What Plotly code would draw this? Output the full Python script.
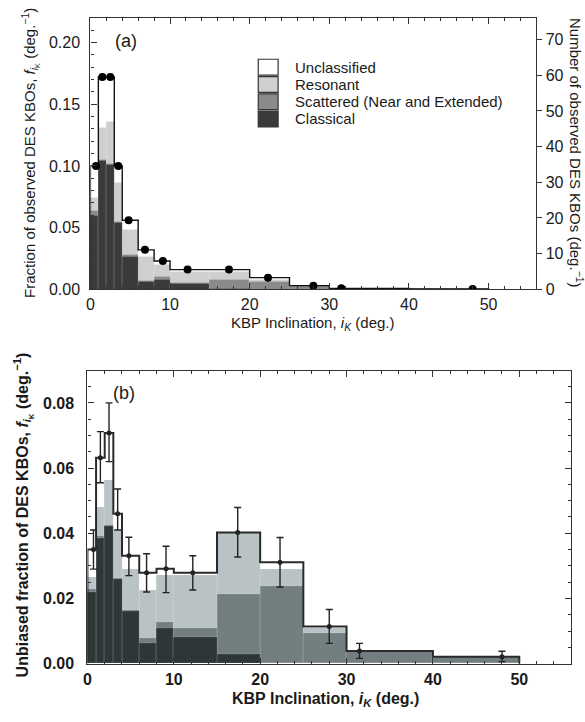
import numpy as np
import plotly.graph_objects as go

W, H = 585, 722

# Inclination bin edges (deg.) shared by both panels
bin_edges = [0, 1, 2, 3, 4, 6, 8, 10, 15, 20, 25, 30, 40, 50]
# Mean inclination of the objects in each bin (marker positions)
bin_mean_incl = [0.7, 1.5, 2.5, 3.5, 4.8, 6.85, 9.1, 12.2, 17.4, 22.3, 28.0, 31.5, 48.0]

# Panel (a): observed fraction per degree, cumulative stack heights
obs_total = [0.100, 0.172, 0.172, 0.100, 0.056, 0.032, 0.023, 0.016, 0.016, 0.0095, 0.003, 0.0008, 0.0003]
obs_resonant_top = [0.074, 0.131, 0.136, 0.086, 0.048, 0.026, 0.020, 0.0145, 0.0145, 0.0075, 0.0025, 0.0008, 0.0003]
obs_scattered_top = [0.064, 0.105, 0.102, 0.055, 0.028, 0.007, 0.010, 0.005, 0.0077, 0.0065, 0.0025, 0.0008, 0.0003]
obs_classical_top = [0.060, 0.104, 0.101, 0.054, 0.026, 0.0065, 0.008, 0.0045, 0.0005, 0.0, 0.0, 0.0, 0.0]
n_observed = 346  # scale for right-hand count axis

# Panel (b): debiased fraction per degree, cumulative stack heights
unb_total = [0.035, 0.0632, 0.0708, 0.046, 0.0331, 0.0279, 0.0291, 0.0279, 0.0402, 0.0311, 0.0114, 0.0039, 0.0021]
unb_resonant_top = [0.0264, 0.048, 0.0564, 0.0409, 0.0289, 0.0226, 0.027, 0.027, 0.0402, 0.029, 0.0107, 0.0039, 0.0021]
unb_scattered_top = [0.0228, 0.0390, 0.0425, 0.0262, 0.0163, 0.0077, 0.0127, 0.0109, 0.0213, 0.0238, 0.0092, 0.0039, 0.0021]
unb_classical_top = [0.0218, 0.0385, 0.0420, 0.0258, 0.0160, 0.0062, 0.0109, 0.0080, 0.0029, 0.0, 0.0, 0.0, 0.0]
unb_upper = [0.041, 0.0712, 0.080, 0.0536, 0.0388, 0.0337, 0.036, 0.0331, 0.0479, 0.0387, 0.0166, 0.0062, 0.0038]
unb_lower = [0.029, 0.0555, 0.062, 0.041, 0.027, 0.022, 0.0218, 0.0226, 0.0327, 0.0235, 0.0062, 0.0016, 0.0006]

x_ticks = [0, 10, 20, 30, 40, 50]
legend_labels = ["Unclassified", "Resonant", "Scattered (Near and Extended)", "Classical"]

colors_a = {"unc": "#ffffff", "res": "#cfcfcf", "sca": "#8a8a8a", "cla": "#3a3a3a"}
colors_b = {"res": "#b9c2c4", "sca": "#737e80", "cla": "#2e3637"}

FONT = "Liberation Sans, Arial, Helvetica, sans-serif"

edges = np.array(bin_edges, dtype=float)
centers = (edges[:-1] + edges[1:]) / 2
widths = np.diff(edges)


def px_x(p):
    return p / W


def px_y(p):
    return 1 - p / H


fig = go.Figure()


def add_stack(tops_and_colors, xa, ya):
    for tops, col in tops_and_colors:
        fig.add_trace(go.Bar(
            x=centers, y=tops, width=widths, marker_color=col,
            marker_line=dict(color="rgba(255,255,255,0.22)", width=0.6),
            xaxis=xa, yaxis=ya, showlegend=False, hoverinfo="skip",
        ))


def add_outline(total, xa, ya, lw, col):
    xs = [edges[0]] + list(edges)
    ys = [0] + list(total) + [0]
    fig.add_trace(go.Scatter(
        x=xs, y=ys, mode="lines", line=dict(shape="hv", color=col, width=lw),
        xaxis=xa, yaxis=ya, showlegend=False, hoverinfo="skip",
    ))


# ---- panel (a) ----
add_stack([(obs_resonant_top, colors_a["res"]),
           (obs_scattered_top, colors_a["sca"]),
           (obs_classical_top, colors_a["cla"])], "x", "y")
add_outline(obs_total, "x", "y", 1.4, "#111111")
fig.add_trace(go.Scatter(
    x=bin_mean_incl, y=obs_total, mode="markers",
    marker=dict(color="black", size=8), xaxis="x", yaxis="y",
    showlegend=False, hoverinfo="skip",
))
# invisible trace to carry the right-hand count axis
fig.add_trace(go.Scatter(x=[0], y=[0], mode="markers", marker=dict(opacity=0),
                         xaxis="x", yaxis="y3", showlegend=False, hoverinfo="skip"))

# ---- panel (b) ----
add_stack([(unb_resonant_top, colors_b["res"]),
           (unb_scattered_top, colors_b["sca"]),
           (unb_classical_top, colors_b["cla"])], "x2", "y2")
add_outline(unb_total, "x2", "y2", 2.0, "#2a2a2a")
tot_b = np.array(unb_total)
fig.add_trace(go.Scatter(
    x=bin_mean_incl, y=unb_total, mode="markers",
    marker=dict(color="#222222", size=5),
    error_y=dict(type="data", symmetric=False,
                 array=np.array(unb_upper) - tot_b,
                 arrayminus=tot_b - np.array(unb_lower),
                 color="#222222", thickness=1.4, width=3.5),
    xaxis="x2", yaxis="y2", showlegend=False, hoverinfo="skip",
))

tick_font_a = dict(family=FONT, size=16, color="#1a1a1a")
tick_font_b = dict(family=FONT, size=16, color="#1a1a1a", weight="bold")

common_x = dict(range=[0, 56], tickvals=x_ticks, ticks="inside", ticklen=6, tickwidth=1,
                tickcolor="#333333", showline=True, linecolor="#333333", linewidth=1.2,
                mirror="ticks", showgrid=False, zeroline=False,
                minor=dict(ticks="inside", dtick=2, ticklen=3, tickcolor="#333333", showgrid=False))

fig.update_layout(
    width=W, height=H, margin=dict(l=0, r=0, t=0, b=0),
    paper_bgcolor="white", plot_bgcolor="white",
    barmode="overlay", bargap=0, showlegend=False,
    xaxis=dict(domain=[px_x(87), px_x(536)], anchor="y", tickfont=tick_font_a,
               ticklabelstandoff=0, **common_x),
    yaxis=dict(domain=[px_y(293), px_y(18)], anchor="x", range=[0, 0.22],
               tickvals=[0, 0.05, 0.10, 0.15, 0.20], ticktext=["0.00", "0.05", "0.10", "0.15", "0.20"],
               ticks="inside", ticklen=6, tickcolor="#333333", showline=True, linecolor="#333333",
               linewidth=1.2, mirror=False, showgrid=False, zeroline=False, tickfont=tick_font_a,
               ticklabelstandoff=6,
               minor=dict(ticks="inside", dtick=0.01, ticklen=3, tickcolor="#333333", showgrid=False)),
    yaxis3=dict(overlaying="y", side="right", anchor="x", range=[0, 0.22 * n_observed],
                tickvals=[0, 10, 20, 30, 40, 50, 60, 70], ticks="outside", ticklen=5,
                tickcolor="#333333", showline=True, linecolor="#333333", linewidth=1.2,
                showgrid=False, zeroline=False, tickfont=tick_font_a),
    xaxis2=dict(domain=[px_x(84), px_x(571)], anchor="y2", tickfont=tick_font_b,
                ticklabelstandoff=1, **common_x),
    yaxis2=dict(domain=[px_y(672), px_y(376)], anchor="x2", range=[0, 0.0897],
                tickvals=[0, 0.02, 0.04, 0.06, 0.08], ticktext=["0.00", "0.02", "0.04", "0.06", "0.08"],
                ticks="inside", ticklen=6, tickcolor="#333333", showline=True, linecolor="#333333",
                linewidth=1.2, mirror="ticks", showgrid=False, zeroline=False, tickfont=tick_font_b,
                ticklabelstandoff=9,
                minor=dict(ticks="inside", dtick=0.005, ticklen=3, tickcolor="#333333", showgrid=False)),
)


def title_ann(text, cx, cy, size, angle=0):
    return dict(text=text, x=px_x(cx), y=px_y(cy), xref="paper", yref="paper",
                xanchor="center", yanchor="middle", showarrow=False, textangle=angle,
                font=dict(family=FONT, size=size, color="#1a1a1a"))


ann = [
    title_ann("KBP Inclination, <i>i</i><sub><i>K</i></sub> (deg.)", 311, 328, 15),
    title_ann("Fraction of observed DES KBOs, <i>f</i><sub><i>i</i><sub>K</sub></sub> (deg.<sup>−1</sup>)",
              27, 155, 15, -90),
    title_ann("Number of observed DES KBOs (deg.<sup>−1</sup>)", 577, 155, 15, 90),
    title_ann("<b>KBP Inclination, <i>i</i><sub><i>K</i></sub> (deg.)</b>", 324, 708, 16),
    title_ann("<b>Unbiased fraction of DES KBOs, <i>f</i><sub><i>i</i><sub>K</sub></sub> (deg.<sup>−1</sup>)</b>",
              19, 521, 16, -90),
]
# panel tags
ann.append(dict(text="(a)", x=4.5, y=0.201, xref="x", yref="y", showarrow=False,
                font=dict(family=FONT, size=18, color="#1a1a1a")))
ann.append(dict(text="(b)", x=4.2, y=0.083, xref="x2", yref="y2", showarrow=False,
                font=dict(family=FONT, size=18, color="#1a1a1a")))

# legend for panel (a)
shapes = []
legend_fill = [colors_a["unc"], colors_a["res"], colors_a["sca"], colors_a["cla"]]
row_top = [60, 77.5, 95, 112.5]
for lab, col, top in zip(legend_labels, legend_fill, row_top):
    shapes.append(dict(type="rect", xref="paper", yref="paper",
                       x0=px_x(256), x1=px_x(276), y0=px_y(top + 16), y1=px_y(top),
                       fillcolor=col, line=dict(color="#333333", width=1.2)))
    ann.append(dict(text=lab, x=px_x(291), y=px_y(top + 8), xref="paper", yref="paper",
                    xanchor="left", yanchor="middle", showarrow=False,
                    font=dict(family=FONT, size=15, color="#1a1a1a")))

fig.update_layout(annotations=ann, shapes=shapes)
fig.write_html("out.html")
